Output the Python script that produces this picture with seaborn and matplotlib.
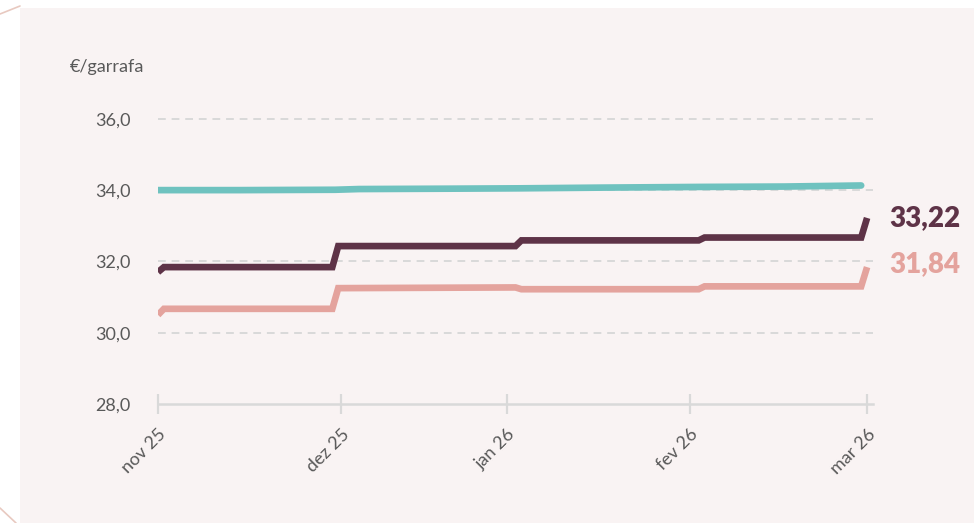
import pandas as pd
import numpy as np
import matplotlib
matplotlib.use("Agg")
import matplotlib.pyplot as plt
from matplotlib.patches import Rectangle
from matplotlib.lines import Line2D
import seaborn as sns

# ---- data ----
dates_dark = ["2025-11-01 00:00", "2025-11-02 00:00", "2025-11-30 12:00", "2025-12-01 12:00", "2025-12-31 12:00",
              "2026-01-01 12:00", "2026-01-31 12:00", "2026-02-01 12:00", "2026-02-28 00:00", "2026-03-01 00:00"]
values_dark = [31.70, 31.84, 31.84, 32.43, 32.43, 32.59, 32.59, 32.67, 32.67, 33.22]

dates_pink = ["2025-11-01 00:00", "2025-11-02 00:00", "2025-11-30 12:00", "2025-12-01 12:00", "2025-12-31 12:00",
              "2026-01-01 12:00", "2026-01-31 12:00", "2026-02-01 12:00", "2026-02-28 00:00", "2026-03-01 00:00"]
values_pink = [30.50, 30.67, 30.67, 31.25, 31.27, 31.22, 31.22, 31.30, 31.30, 31.84]

dates_teal = ["2025-11-01", "2025-11-15", "2025-12-01", "2025-12-05", "2025-12-20",
              "2026-01-01", "2026-01-15", "2026-02-01", "2026-02-15", "2026-02-28"]
values_teal = [34.00, 34.00, 34.01, 34.03, 34.04, 34.05, 34.07, 34.09, 34.10, 34.13]

series_names = ["A", "B", "C"]
series_colors = ["#6fc2bf", "#5e3347", "#e4a39d"]

xtick_dates = ["2025-11-01", "2025-12-02", "2025-12-30", "2026-01-30", "2026-03-01"]
xtick_labels = ["nov 25", "dez 25", "jan 26", "fev 26", "mar 26"]
ytick_values = [28, 30, 32, 34, 36]
ytick_labels = ["28,0", "30,0", "32,0", "34,0", "36,0"]
end_labels = ["33,22", "31,84"]
unit_label = "€/garrafa"

# ---- build frame ----
df = pd.concat([
    pd.DataFrame({"date": pd.to_datetime(dates_teal), "value": values_teal, "series": series_names[0]}),
    pd.DataFrame({"date": pd.to_datetime(dates_dark, format="%Y-%m-%d %H:%M"), "value": values_dark, "series": series_names[1]}),
    pd.DataFrame({"date": pd.to_datetime(dates_pink, format="%Y-%m-%d %H:%M"), "value": values_pink, "series": series_names[2]}),
])

sns.set_theme(style="white")
plt.rcParams["font.family"] = ["Lato", "DejaVu Sans"]

W, H = 974, 523
fig = plt.figure(figsize=(W / 100, H / 100), dpi=100, facecolor="white")
bg = "#f9f3f3"
fig.patches.append(Rectangle((20 / W, 0), 1 - 20 / W, 1 - 8 / H, transform=fig.transFigure,
                             facecolor=bg, edgecolor="none", zorder=-10))
fig.lines.append(Line2D([0, 20 / W], [1 - 14 / H, 1 - 6 / H], transform=fig.transFigure,
                        color="#e8c9c0", lw=1.2, zorder=-9))
fig.lines.append(Line2D([0, 16 / W], [15 / H, 0], transform=fig.transFigure,
                        color="#e8c9c0", lw=1.2, zorder=-9))

left, right = 158 / W, 873 / W
bottom, top = (H - 404) / H, (H - 101) / H
ax = fig.add_axes([left, bottom, right - left, top - bottom])
ax.set_facecolor("none")

sns.lineplot(data=df, x="date", y="value", hue="series", palette=dict(zip(series_names, series_colors)),
             linewidth=4.8, legend=False, ax=ax, zorder=3)
for ln in ax.lines:
    ln.set_solid_capstyle("butt")
    ln.set_solid_joinstyle("miter")
ax.lines[0].set_solid_capstyle("round")

ax.set_xlim(pd.Timestamp("2025-11-01"), pd.Timestamp("2026-03-02"))
ax.set_ylim(28, 36.5)

ax.set_yticks(ytick_values)
ax.set_yticklabels(ytick_labels)
ax.set_xticks(pd.to_datetime(xtick_dates))
ax.set_xticklabels(xtick_labels, rotation=45, ha="right", rotation_mode="anchor")

for v in ytick_values[1:]:
    ax.axhline(v, color="#d9d9d9", lw=1.4, linestyle=(0, (4, 3)), zorder=1)

for s in ["top", "right", "left"]:
    ax.spines[s].set_visible(False)
ax.spines["bottom"].set_color("#d9d9d9")
ax.spines["bottom"].set_linewidth(1.8)
ax.spines["bottom"].set_zorder(1)

ax.tick_params(axis="x", direction="inout", length=14, width=1.6, color="#d9d9d9",
               labelsize=13, labelcolor="#595959", pad=9, bottom=True)
ax.tick_params(axis="y", length=0, labelsize=13, labelcolor="#595959", pad=20)
ax.set_xlabel("")
ax.set_ylabel("")

fig.text(70 / W, 1 - 67 / H, unit_label, fontsize=13, color="#595959", ha="left", va="center")

end_x = pd.Timestamp("2026-03-01")
ax.annotate(end_labels[0], xy=(end_x, values_dark[-1]), xytext=(16, 0), textcoords="offset points",
            fontsize=20, fontweight="heavy", color=series_colors[1], va="center", ha="left",
            annotation_clip=False)
ax.annotate(end_labels[1], xy=(end_x, values_pink[-1]), xytext=(16, 2), textcoords="offset points",
            fontsize=20, fontweight="heavy", color=series_colors[2], va="center", ha="left",
            annotation_clip=False)

fig.savefig("out.png", dpi=100, facecolor="white")
